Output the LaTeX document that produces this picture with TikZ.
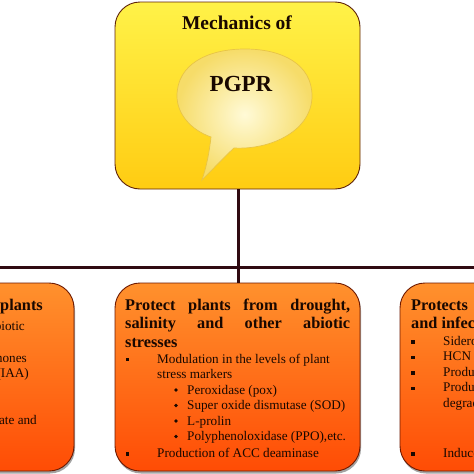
\documentclass[tikz,border=0pt]{standalone}
\usepackage{fontspec}
\setmainfont{Liberation Serif}
\usetikzlibrary{shadows}
\definecolor{linecol}{RGB}{48,10,18}
\definecolor{ybor}{RGB}{95,35,10}
\definecolor{ytop}{RGB}{255,242,72}
\definecolor{ybot}{RGB}{255,204,18}
\definecolor{otop}{RGB}{255,145,45}
\definecolor{obot}{RGB}{255,76,5}
\definecolor{obor}{RGB}{110,25,0}
\definecolor{txt}{RGB}{25,8,0}
\definecolor{bin}{RGB}{255,250,215}
\definecolor{bout}{RGB}{246,220,105}
\definecolor{bedge}{RGB}{232,196,70}
\newcommand\ttlfont{\fontsize{16.3}{18}\selectfont\bfseries}
\newcommand\bdyfont{\fontsize{13.2}{16}\selectfont}
\tikzset{
  topbox/.style={rectangle, rounded corners=25pt, draw=ybor, line width=0.9pt,
    top color=ytop, bottom color=ybot, minimum width=245pt, minimum height=187pt, inner sep=0pt},
  lowbox/.style={rectangle, rounded corners=25pt, draw=obor, line width=0.9pt,
    top color=otop, bottom color=obot, minimum width=245pt, minimum height=188pt, inner sep=0pt,
    drop shadow={shadow xshift=1pt, shadow yshift=-2.5pt, fill=black!60, opacity=0.6}},
  conn/.style={draw=linecol, line width=3pt},
  ttl/.style={anchor=base west, inner sep=0pt, text=txt, font=\ttlfont},
  ttlr/.style={anchor=base east, inner sep=0pt, text=txt, font=\ttlfont},
  bdy/.style={anchor=base west, inner sep=0pt, text=txt, font=\bdyfont},
  bdyr/.style={anchor=base east, inner sep=0pt, text=txt, font=\bdyfont},
  sqb/.style={fill=txt},
}
\begin{document}
\begin{tikzpicture}[x=1pt,y=-1pt]
\useasboundingbox (0,0) rectangle (474,474);
\clip (0,0) rectangle (474,474);
\fill[white] (0,0) rectangle (474,474);

% connectors
\coordinate (hub) at (238,267);
\coordinate (hl) at (-48.5,267);
\coordinate (hr) at (522.5,267);

% boxes
\node[topbox] (top) at (237.5,95.5) {};
\node[lowbox] (left) at (-48.5,377) {};
\node[lowbox] (mid) at (237.5,377) {};
\node[lowbox] (right) at (522.5,377) {};

\draw[conn] (top.south -| hub) -- (hub);
\draw[conn] (hl) -- (hr);
\draw[conn] (hub) -- (mid.north -| hub);
\draw[conn] (hl) -- (left.north);
\draw[conn] (hr) -- (right.north);

% speech bubble
\path[inner color=bin, outer color=bout, draw=bedge, line width=0.7pt]
  (211,137) .. controls (209,155) and (206,168) .. (202,180)
  .. controls (214,168) and (224,157) .. (234,148)
  .. controls (272,150) and (312,130) .. (312,96)
  .. controls (312,64) and (282,49) .. (245,49)
  .. controls (208,49) and (177,64) .. (177,96)
  .. controls (177,114) and (191,130) .. (211,137) -- cycle;

\node[anchor=base, inner sep=0pt, text=txt, font=\fontsize{19.5}{22}\selectfont\bfseries] (mech) at (237,29) {Mechanics of};
\node[anchor=base, inner sep=0pt, text=txt, font=\fontsize{23}{26}\selectfont\bfseries] (pgpr) at (241,91) {PGPR};

% middle box text
\node[ttl] (m1) at (125,310) {\hbox to 225pt{Protect\hfill plants\hfill from\hfill drought,}};
\node[ttl] (m2) at (125,328.5) {\hbox to 225pt{salinity\hfill and\hfill other\hfill abiotic}};
\node[ttl] (m3) at (125,347) {stresses};
\fill[sqb] (125.5,357.5) rectangle (129,361);
\node[bdy] (m4) at (157,363) {Modulation in the levels of plant};
\node[bdy] (m5) at (157,378.5) {stress markers};
\fill[txt] (176,390) circle (1.9);
\node[bdy] (m6) at (187,394) {Peroxidase (pox)};
\fill[txt] (176,405.5) circle (1.9);
\node[bdy] (m7) at (187,409.5) {Super oxide dismutase (SOD)};
\fill[txt] (176,421) circle (1.9);
\node[bdy] (m8) at (187,425) {L-prolin};
\fill[txt] (176,436.5) circle (1.9);
\node[bdy] (m9) at (187,440.5) {Polyphenoloxidase (PPO),etc.};
\fill[sqb] (125.5,452) rectangle (129,455.5);
\node[bdy] (m10) at (157,457.5) {Production of ACC deaminase};

% left box text (cropped)
\node[ttlr] (l1) at (43,310) {Promote growth of plants};
\node[bdyr] (l2) at (25,330) {Tolerance to abiotic};
\node[bdyr] (l3) at (27,362) {Production of phytohormones};
\node[bdyr] (l4) at (29,377.5) {like auxins (IAA)};
\node[bdyr] (l5) at (37,424.5) {Solubilization of phosphate and};

% right box text (cropped)
\node[ttl] (r1) at (411,310) {\hbox to 225pt{Protects\hfill plants\hfill from\hfill pathogens}};
\node[ttl] (r2) at (411,328.5) {and infections};
\fill[sqb] (411,340) rectangle (414.5,343.5);
\node[bdy] (r3) at (443,345) {Siderophores};
\fill[sqb] (411,355.5) rectangle (414.5,359);
\node[bdy] (r4) at (443,360.5) {HCN};
\fill[sqb] (411,371) rectangle (414.5,374.5);
\node[bdy] (r5) at (443,376) {Production of antibiotics};
\fill[sqb] (411,386.5) rectangle (414.5,390);
\node[bdy] (r6) at (443,391.5) {Production of lytic enzymes};
\node[bdy] (r7) at (443,407) {degrading cell walls};
\fill[sqb] (411,452) rectangle (414.5,455.5);
\node[bdy] (r8) at (443,457.5) {Induced systemic resistance};
\end{tikzpicture}
\end{document}
